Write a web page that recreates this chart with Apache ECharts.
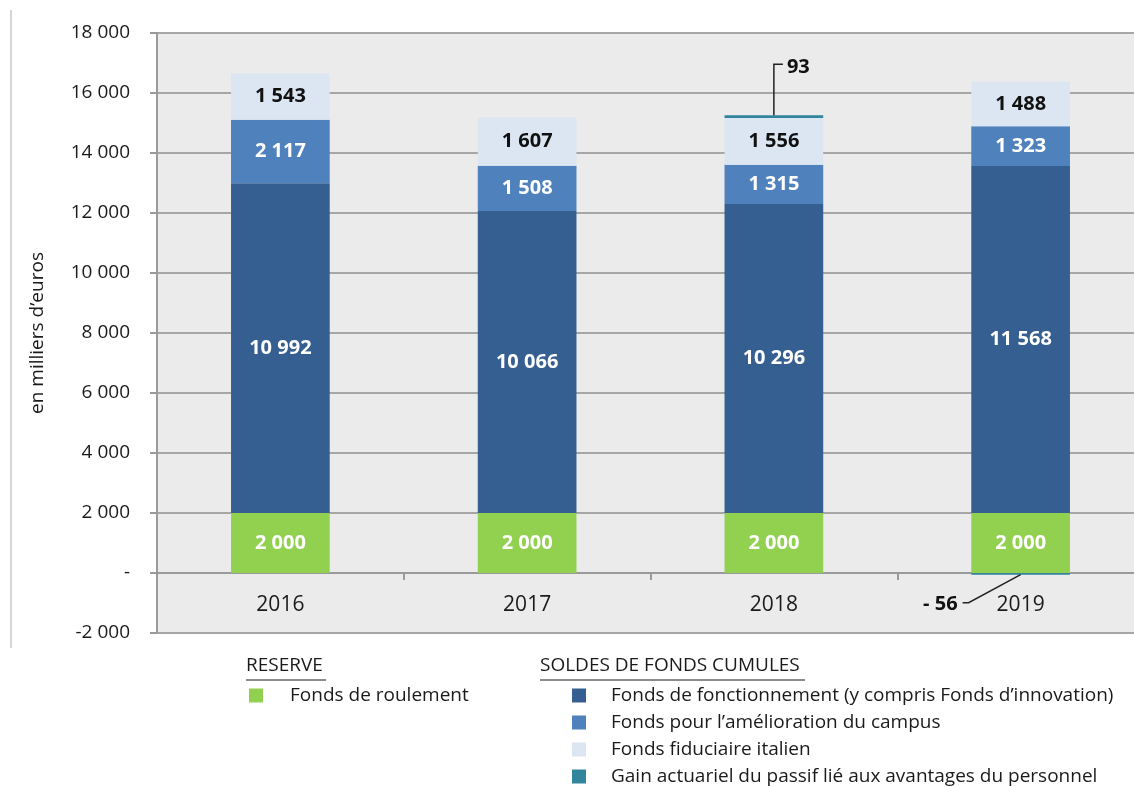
<!DOCTYPE html>
<html>
<head>
<meta charset="utf-8">
<title>Fonds</title>
<script src="https://cdn.jsdelivr.net/npm/echarts@6/dist/echarts.min.js"></script>
<style>
  html, body { margin: 0; padding: 0; background: #fff; }
  #main { width: 1134px; height: 787px; }
</style>
</head>
<body>
<div id="main"></div>
<script>
var years = ['2016', '2017', '2018', '2019'];
var roulement = [2000, 2000, 2000, 2000];
var fonctionnement = [10992, 10066, 10296, 11568];
var campus = [2117, 1508, 1315, 1323];
var italien = [1543, 1607, 1556, 1488];
var gain = [null, null, 93, -56];

var font = '"Open Sans", "Noto Sans", sans-serif';

// 12345 -> "12 345", -56 -> "- 56"
function fmt(v) {
    var s = String(Math.abs(v)).replace(/\B(?=(\d{3})+(?!\d))/g, ' ');
    return v < 0 ? '- ' + s : s;
}

function barLabel(color) {
    return {
        show: true,
        position: 'inside',
        color: color,
        fontFamily: font,
        fontWeight: 'bold',
        fontSize: 20,
        formatter: function (p) { return p.value ? fmt(p.value) : ''; }
    };
}

// outer edge of the small "gain" segment, for the callouts
var callouts = [];
gain.forEach(function (g, i) {
    if (g == null) return;
    var edge = g > 0 ? roulement[i] + fonctionnement[i] + campus[i] + italien[i] + g : g;
    callouts.push([i, edge, g]);
});

var option = {
    backgroundColor: '#fff',
    animation: false,
    textStyle: { fontFamily: font },
    grid: {
        left: 157,
        top: 33,
        width: 987,
        height: 600,
        outerBoundsMode: 'none',
        show: true,
        backgroundColor: '#ebebeb',
        borderWidth: 0
    },
    legend: [{
        data: ['Fonds de roulement'],
        orient: 'vertical',
        left: 249,
        top: 686,
        padding: 0,
        icon: 'rect',
        itemWidth: 14,
        itemHeight: 14,
        itemGap: 8,
        textStyle: { fontSize: 19, color: '#1a1a1a', fontFamily: font, padding: [0, 0, 0, 22] }
    }, {
        data: ['Fonds de fonctionnement (y compris Fonds d\u2019innovation)',
               'Fonds pour l\u2019am\u00e9lioration du campus',
               'Fonds fiduciaire italien',
               'Gain actuariel du passif li\u00e9 aux avantages du personnel'],
        orient: 'vertical',
        left: 572,
        top: 686,
        height: 101,
        padding: 0,
        icon: 'rect',
        itemWidth: 14,
        itemHeight: 14,
        itemGap: 8,
        textStyle: { fontSize: 19, color: '#1a1a1a', fontFamily: font, padding: [0, 0, 0, 20] }
    }],
    xAxis: {
        type: 'category',
        data: years,
        axisLine: { onZero: false, lineStyle: { color: '#9a9a9a', width: 2 } },
        offset: -60,
        axisTick: { show: true, length: 7, lineStyle: { color: '#9a9a9a', width: 2 } },
        axisLabel: { fontSize: 21, color: '#1a1a1a', margin: 22, fontFamily: font }
    },
    yAxis: {
        type: 'value',
        min: -2000,
        max: 18000,
        interval: 2000,
        name: 'en milliers d\u2019euros',
        nameLocation: 'middle',
        nameGap: 110,
        nameTextStyle: { fontSize: 19, color: '#1a1a1a', fontFamily: font },
        axisLine: { show: true, lineStyle: { color: '#9a9a9a', width: 2 } },
        axisTick: { show: true, length: 7, lineStyle: { color: '#9a9a9a', width: 2 } },
        axisLabel: {
            fontSize: 19,
            color: '#1a1a1a',
            margin: 27,
            fontFamily: font,
            formatter: function (v) { return v === 0 ? '-' : (v < 0 ? '-' : '') + fmt(Math.abs(v)); }
        },
        splitLine: { lineStyle: { color: '#a6a6a6', width: 2 } }
    },
    series: [{
        name: 'Fonds de roulement',
        type: 'bar',
        stack: 'total',
        barWidth: '40%',
        itemStyle: { color: '#92d050' },
        label: barLabel('#fff'),
        data: roulement
    }, {
        name: 'Fonds de fonctionnement (y compris Fonds d\u2019innovation)',
        type: 'bar',
        stack: 'total',
        itemStyle: { color: '#365f91' },
        label: barLabel('#fff'),
        data: fonctionnement
    }, {
        name: 'Fonds pour l\u2019am\u00e9lioration du campus',
        type: 'bar',
        stack: 'total',
        itemStyle: { color: '#4f81bd' },
        label: barLabel('#fff'),
        data: campus
    }, {
        name: 'Fonds fiduciaire italien',
        type: 'bar',
        stack: 'total',
        itemStyle: { color: '#dce6f2' },
        label: barLabel('#111'),
        data: italien
    }, {
        name: 'Gain actuariel du passif li\u00e9 aux avantages du personnel',
        type: 'bar',
        stack: 'total',
        itemStyle: { color: '#31859c' },
        data: gain
    }, {
        // callout lines + labels for the thin gain segments
        name: 'callouts',
        type: 'custom',
        silent: true,
        z: 5,
        data: callouts,
        renderItem: function (params, api) {
            var p = api.coord([api.value(0), api.value(1)]);
            var v = api.value(2);
            var pts, tx, ty, align;
            if (v > 0) {
                pts = [[p[0], p[1]], [p[0], p[1] - 51], [p[0] + 9, p[1] - 51]];
                tx = p[0] + 13; ty = p[1] - 48; align = 'left';
            } else {
                pts = [[p[0], p[1]], [p[0] - 52, p[1] + 28], [p[0] - 58, p[1] + 28]];
                tx = p[0] - 63; ty = p[1] + 30; align = 'right';
            }
            return {
                type: 'group',
                children: [{
                    type: 'polyline',
                    shape: { points: pts },
                    style: { stroke: '#222', lineWidth: 1.5, fill: null }
                }, {
                    type: 'text',
                    x: tx, y: ty,
                    style: {
                        text: fmt(v), fill: '#111', font: 'bold 20px ' + font,
                        align: align, verticalAlign: 'middle'
                    }
                }]
            };
        }
    }],
    graphic: [
        { type: 'line', shape: { x1: 11, y1: 10, x2: 11, y2: 648 }, style: { stroke: '#c8c8c8', lineWidth: 1.5 } },
        { type: 'text', left: 246, top: 656, style: { text: 'RESERVE', fontSize: 19, fill: '#1a1a1a', fontFamily: font } },
        { type: 'line', shape: { x1: 246, y1: 680, x2: 326, y2: 680 }, style: { stroke: '#1a1a1a', lineWidth: 1 } },
        { type: 'text', left: 540, top: 656, style: { text: 'SOLDES DE FONDS CUMULES', fontSize: 19, fill: '#1a1a1a', fontFamily: font } },
        { type: 'line', shape: { x1: 540, y1: 680, x2: 805, y2: 680 }, style: { stroke: '#1a1a1a', lineWidth: 1 } }
    ]
};

var chart = echarts.init(document.getElementById('main'));
chart.setOption(option);
</script>
</body>
</html>
